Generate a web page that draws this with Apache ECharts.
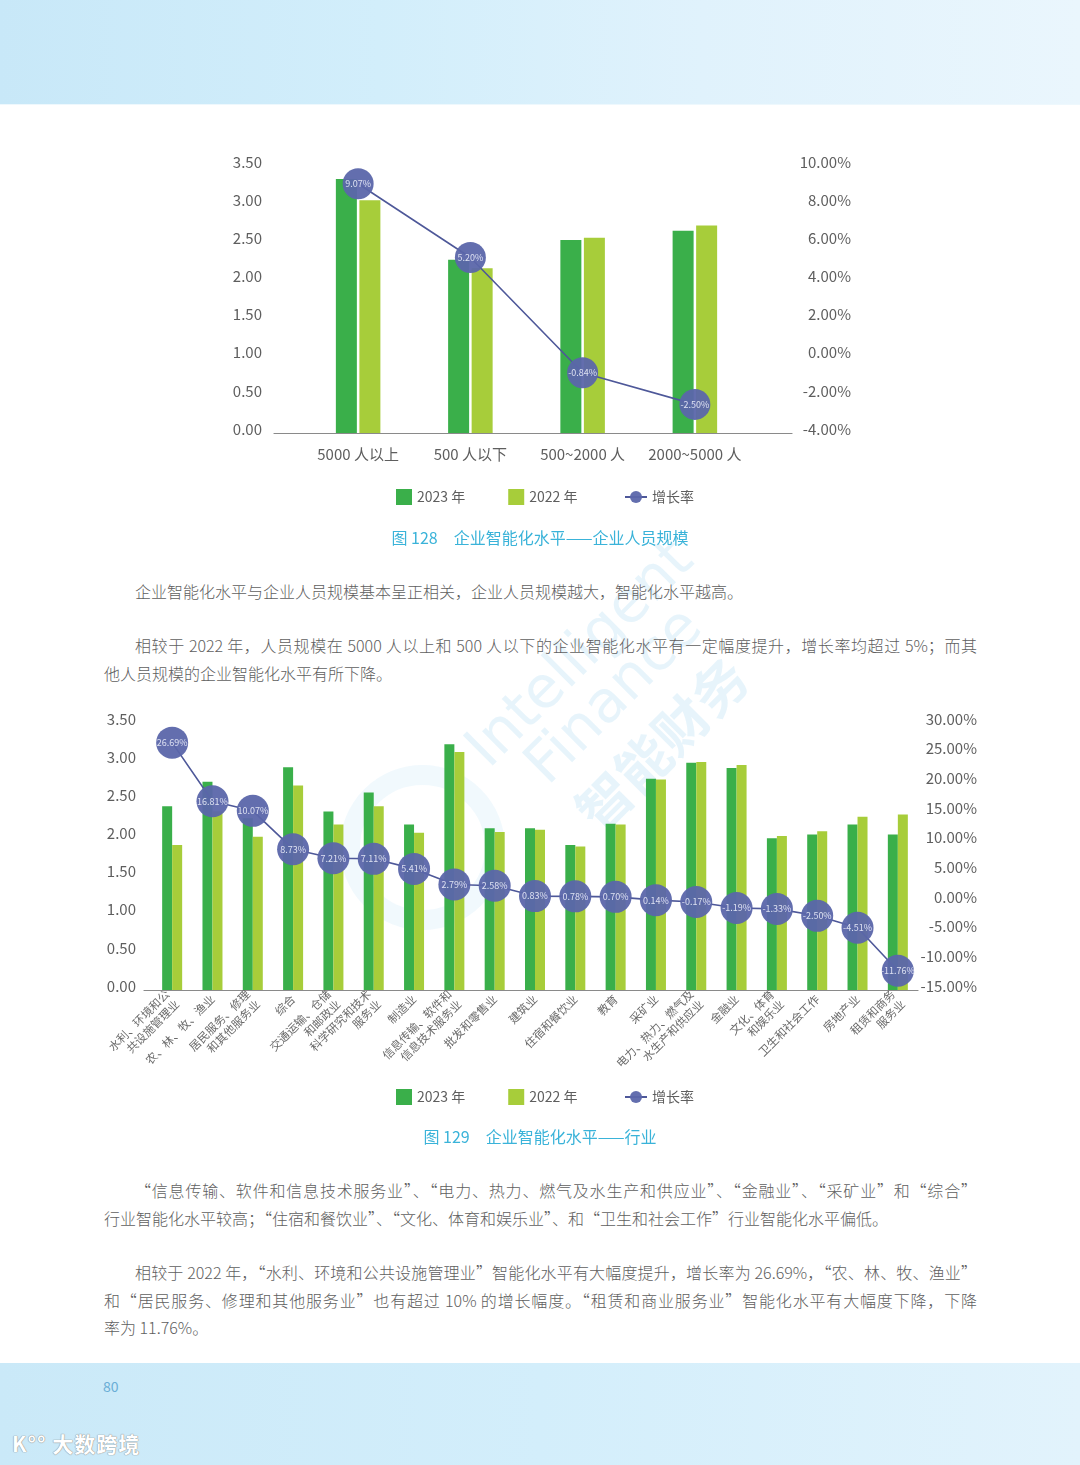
<!DOCTYPE html>
<html>
<head>
<meta charset="utf-8">
<script src="https://cdn.jsdelivr.net/npm/echarts@6/dist/echarts.min.js"></script>
<style>
  html, body { margin:0; padding:0; background:#fff; }
  body { width:1080px; height:1465px; position:relative; overflow:hidden;
         font-family:'Noto Sans CJK SC','Noto Sans',sans-serif; color:#606060; }
  #header { position:absolute; left:0; top:0; width:1080px; height:104px;
            background:linear-gradient(90deg,#c8e8f8 0%,#d2eefb 35%,#e0f2fc 65%,#eaf6fd 100%);
            border-bottom:1px solid #eef8fd; }
  #footer { position:absolute; left:0; top:1363px; width:1080px; height:102px;
            background:linear-gradient(90deg,#cae9f8 0%,#d3eefb 50%,#e2f3fc 100%); }
  #pageno { position:absolute; left:103px; top:1376px; font-size:14px; color:#6aaed6; }
  #logo { position:absolute; left:12px; top:1428px; font-size:21px; font-weight:bold; color:#fff;
          text-shadow:0 0 1px #888, 0 0 1px #888; letter-spacing:1px; }
  .wm { position:absolute; white-space:nowrap; transform:translate(-50%,-50%) rotate(-45deg);
        color:rgba(175,218,242,0.30); font-family:'DejaVu Sans',sans-serif; pointer-events:none; }
  #ring { position:absolute; left:340px; top:765px; width:165px; height:165px; border-radius:50%;
          border:20px solid rgba(200,230,247,0.26); box-sizing:border-box; }
  #chart { position:absolute; left:0; top:0; width:1080px; height:1465px; }
  .p { position:absolute; left:104px; width:873px; font-size:16px; color:#606060; font-weight:300; }
  .ln { height:27.6px; line-height:27.6px; white-space:nowrap; }
  .j { text-align:justify; text-align-last:justify; white-space:normal; }
  .ind { text-indent:31px; }
</style>
</head>
<body>
<div id="header"></div>
<div id="footer"></div>
<div id="pageno">80</div>
<div id="logo">K°° 大数跨境</div>
<div id="ring"></div>
<div class="wm" style="left:578px;top:652px;font-size:58px;">Intelligent</div>
<div class="wm" style="left:612px;top:694px;font-size:58px;">Finance</div>
<div class="wm" style="left:660px;top:742px;font-size:54px;font-weight:bold;font-family:'Noto Sans CJK SC';">智能财务</div>

<div class="p" style="top:578px;">
  <div class="ln ind">企业智能化水平与企业人员规模基本呈正相关，企业人员规模越大，智能化水平越高。</div>
</div>
<div class="p" style="top:632px;">
  <div class="ln ind j">相较于 2022 年，人员规模在 5000 人以上和 500 人以下的企业智能化水平有一定幅度提升，增长率均超过 5%；而其</div>
  <div class="ln">他人员规模的企业智能化水平有所下降。</div>
</div>
<div class="p" style="top:1177px;">
  <div class="ln ind j">“信息传输、软件和信息技术服务业”、“电力、热力、燃气及水生产和供应业”、“金融业”、“采矿业”和“综合”</div>
  <div class="ln">行业智能化水平较高；“住宿和餐饮业”、“文化、体育和娱乐业”、和“卫生和社会工作”行业智能化水平偏低。</div>
</div>
<div class="p" style="top:1259px;">
  <div class="ln ind j">相较于 2022 年，“水利、环境和公共设施管理业”智能化水平有大幅度提升，增长率为 26.69%，“农、林、牧、渔业”</div>
  <div class="ln j">和“居民服务、修理和其他服务业”也有超过 10% 的增长幅度。“租赁和商业服务业”智能化水平有大幅度下降，下降</div>
  <div class="ln">率为 11.76%。</div>
</div>

<div id="chart"></div>
<script>
// ---- Chart 128: enterprise size ----
var sizeCategories = ['5000 人以上', '500 人以下', '500~2000 人', '2000~5000 人'];
var size2023 = [3.33, 2.27, 2.53, 2.65];
var size2022 = [3.05, 2.16, 2.56, 2.72];
var sizeGrowth = [9.07, 5.20, -0.84, -2.50];

// ---- Chart 129: industry ----
var industryCategories = [
  '水利、环境和公\n共设施管理业', '农、林、牧、渔业', '居民服务、修理\n和其他服务业', '综合',
  '交通运输、仓储\n和邮政业', '科学研究和技术\n服务业', '制造业', '信息传输、软件和\n信息技术服务业',
  '批发和零售业', '建筑业', '住宿和餐饮业', '教育', '采矿业', '电力、热力、燃气及\n水生产和供应业',
  '金融业', '文化、体育\n和娱乐业', '卫生和社会工作', '房地产业', '租赁和商务\n服务业'
];
var industry2023 = [2.41, 2.73, 2.25, 2.92, 2.34, 2.59, 2.17, 3.22, 2.12, 2.12, 1.90, 2.18, 2.77, 2.98, 2.91, 1.99, 2.04, 2.17, 2.04];
var industry2022 = [1.90, 2.34, 2.01, 2.68, 2.17, 2.41, 2.06, 3.12, 2.07, 2.10, 1.88, 2.17, 2.76, 2.99, 2.95, 2.02, 2.08, 2.27, 2.30];
// growth-rate points as plotted in the picture (the 居民服务 point sits near 15% on the axis)
var industryGrowth = [26.69, 16.81, 15.2, 8.73, 7.21, 7.11, 5.41, 2.79, 2.58, 0.83, 0.78, 0.70, 0.14, -0.17, -1.19, -1.33, -2.50, -4.51, -11.76];
// labels printed on the points
var industryGrowthLabels = ['26.69%', '16.81%', '10.07%', '8.73%', '7.21%', '7.11%', '5.41%', '2.79%', '2.58%', '0.83%',
  '0.78%', '0.70%', '0.14%', '-0.17%', '-1.19%', '-1.33%', '-2.50%', '-4.51%', '-11.76%'];

var leftTicks = { min: 0, max: 3.5, interval: 0.5 };
var sizeRightTicks = { min: -4, max: 10, interval: 2 };
var industryRightTicks = { min: -15, max: 30, interval: 5 };

var FONT = "'Noto Sans CJK SC','Noto Sans',sans-serif";
var C2023 = '#3aaf4a', C2022 = '#a7cd3a', CLINE = '#4e5899', CDOT = '#5b66aa';
var labelColor = '#5e5e5e';
var tickRich = { s: { fontSize: 15, color: labelColor, fontFamily: FONT, padding: [0, 0, 8, 0] } };

function leftAxis(grid) {
  return { type: 'value', gridIndex: grid, position: 'left', min: leftTicks.min, max: leftTicks.max, interval: leftTicks.interval,
    splitLine: { show: false }, axisLine: { show: false }, axisTick: { show: false },
    axisLabel: { margin: grid === 1 ? 40 : 16, rich: tickRich,
      formatter: function (v) { return '{s|' + v.toFixed(2) + '}'; } } };
}
function rightAxis(grid, t, margin) {
  return { type: 'value', gridIndex: grid, position: 'right', min: t.min, max: t.max, interval: t.interval,
    splitLine: { show: false }, axisLine: { show: false }, axisTick: { show: false },
    axisLabel: { margin: margin, align: 'right', rich: tickRich,
      formatter: function (v) { return '{s|' + v.toFixed(2) + '%}'; } } };
}
function hiddenY(grid) { return { type: 'value', gridIndex: grid, show: false, min: 0, max: 1 }; }
function lineAxis(grid) {
  return { type: 'category', gridIndex: grid, data: [''], axisLine: { show: true, onZero: false, lineStyle: { color: '#8a8a8a', width: 1.2 } },
    axisTick: { show: false }, axisLabel: { show: false } };
}
function growthSeries(name, xi, yi, data, size, labels) {
  return { name: name, type: 'line', xAxisIndex: xi, yAxisIndex: yi, data: data, z: 5,
    symbol: 'circle', symbolSize: size, lineStyle: { color: CLINE, width: 1.6 },
    itemStyle: { color: CDOT, opacity: 0.95 },
    label: { show: true, position: 'inside', fontSize: 9, color: '#e4e7f6', fontFamily: FONT,
      formatter: function (p) { return labels ? labels[p.dataIndex] : p.value.toFixed(2) + '%'; } } };
}
function legends(top) {
  return [
    { left: 391, top: top, data: ['2023 年', '2022 年'], itemWidth: 16, itemHeight: 16, itemGap: 43, selectedMode: false,
      icon: 'rect', textStyle: { fontSize: 14, color: labelColor, fontFamily: FONT } },
    { left: 619, top: top + 1, data: ['增长率'], itemWidth: 22, itemHeight: 15, selectedMode: false,
      textStyle: { fontSize: 14, color: labelColor, fontFamily: FONT } }
  ];
}

var option = {
  animation: false,
  textStyle: { fontFamily: FONT },
  title: [
    { text: '图 128\u3000企业智能化水平——企业人员规模', left: 'center', top: 525,
      textStyle: { fontSize: 16, color: '#3ab3d9', fontWeight: 'normal', fontFamily: FONT } },
    { text: '图 129\u3000企业智能化水平——行业', left: 'center', top: 1124,
      textStyle: { fontSize: 16, color: '#3ab3d9', fontWeight: 'normal', fontFamily: FONT } }
  ],
  legend: legends(484).concat(legends(1084)),
  grid: [
    { left: 274, top: 166, width: 518, height: 267 },
    { left: 302, top: 166, width: 449, height: 267 },
    { left: 144, top: 723, width: 774, height: 267 },
    { left: 152, top: 723, width: 766, height: 267 }
  ],
  xAxis: [
    lineAxis(0),
    { type: 'category', gridIndex: 1, data: sizeCategories, axisLine: { show: false }, axisTick: { show: false },
      axisLabel: { fontSize: 15, color: labelColor, fontFamily: FONT, margin: 14, interval: 0 } },
    lineAxis(2),
    { type: 'category', gridIndex: 3, data: industryCategories, axisLine: { show: false }, axisTick: { show: false },
      axisLabel: { fontSize: 11.5, color: '#6a6a6a', fontFamily: FONT, margin: 7, rotate: 45, interval: 0, lineHeight: 14 } }
  ],
  yAxis: [
    hiddenY(0),
    leftAxis(1),
    rightAxis(1, sizeRightTicks, 100),
    hiddenY(2),
    leftAxis(3),
    rightAxis(3, industryRightTicks, 59)
  ],
  series: [
    { name: '2023 年', type: 'bar', xAxisIndex: 1, yAxisIndex: 1, data: size2023, barWidth: 21, barGap: '12%', itemStyle: { color: C2023 } },
    { name: '2022 年', type: 'bar', xAxisIndex: 1, yAxisIndex: 1, data: size2022, barWidth: 21, barGap: '12%', itemStyle: { color: C2022 } },
    growthSeries('增长率', 1, 2, sizeGrowth, 31, null),
    { name: '2023 年', type: 'bar', xAxisIndex: 3, yAxisIndex: 4, data: industry2023, barWidth: 10, barGap: '0%', itemStyle: { color: C2023 } },
    { name: '2022 年', type: 'bar', xAxisIndex: 3, yAxisIndex: 4, data: industry2022, barWidth: 10, barGap: '0%', itemStyle: { color: C2022 } },
    growthSeries('增长率', 3, 5, industryGrowth, 32, industryGrowthLabels)
  ]
};
var chart = echarts.init(document.getElementById('chart'), null, { renderer: 'canvas' });
chart.setOption(option);
</script>
</body>
</html>
